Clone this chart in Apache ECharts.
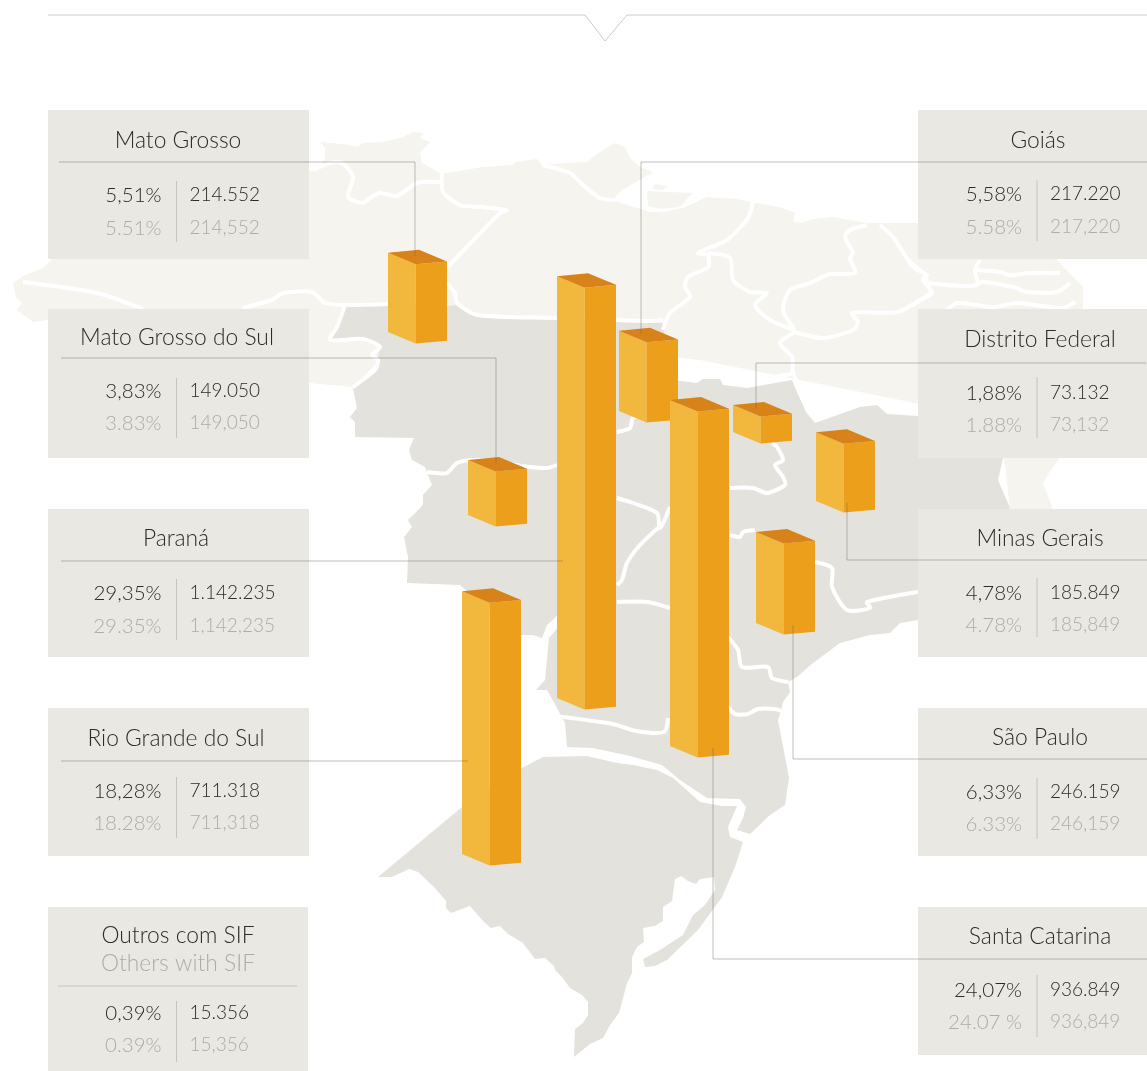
<!DOCTYPE html>
<html>
<head>
<meta charset="utf-8">
<title>Abate por estado</title>
<script src="https://cdn.jsdelivr.net/npm/echarts@6/dist/echarts.min.js"></script>
<style>
html, body { margin: 0; padding: 0; background: #fff; }
#panel { width: 1147px; height: 1071px; }
</style>
</head>
<body>
<div id="panel"></div>
<script>
const states = ['Mato Grosso', 'Mato Grosso do Sul', 'Paraná', 'Rio Grande do Sul', 'Goiás', 'Distrito Federal', 'Minas Gerais', 'São Paulo', 'Santa Catarina', 'Outros com SIF']
const volumes = [214552, 149050, 1142235, 711318, 217220, 73132, 185849, 246159, 936849, 15356]
const sharesPt = ['5,51%', '3,83%', '29,35%', '18,28%', '5,58%', '1,88%', '4,78%', '6,33%', '24,07%', '0,39%']
const sharesEn = ['5.51%', '3.83%', '29.35%', '18.28%', '5.58%', '1.88%', '4.78%', '6.33%', '24.07 %', '0.39%']
const othersEn = 'Others with SIF'

// layout of the bars on the map
const barCount = 9
const barX = [388, 468, 557, 462, 619, 733, 816, 756, 670]
const barBaseY = [332, 515, 698, 854, 411, 432, 501, 623, 746]
const yMax = 2900000

// callouts: route in pixels, last part goes to the bar top or bottom
const calloutRoute = [
  [[59, 162], [415, 162]],
  [[61, 358], [496, 358]],
  [[61, 561], [563, 561]],
  [[61, 761], [468, 761]],
  [[1147, 162], [641, 162]],
  [[1146, 363], [756, 363]],
  [[1147, 560], [847, 560]],
  [[1147, 759], [793, 759]],
  [[1147, 959], [713, 959]]
]
const calloutEnd = ['top', 'top', '', '', 'top', 'top', 'bottom', 'bottom', 'bottom']

// layout of the boxes
const boxX = [48, 48, 48, 48, 918, 918, 918, 918, 918, 48]
const boxW = [261, 261, 261, 261, 229, 229, 229, 229, 229, 260]
const boxY = [110, 309, 509, 708, 110, 309, 509, 708, 907, 907]
const boxH = [149, 149, 148, 148, 149, 149, 148, 148, 148, 164]
const titleX = [178, 177, 176, 176, 1038, 1040, 1040, 1040, 1040, 178]
const titleY = [141, 338, 539, 739, 141, 340, 539, 738, 937, 936]
const rowPtY = [195, 391, 593, 791, 194, 393, 593, 792, 990, 1013]
const rowEnY = [228, 423, 626, 823, 227, 425, 625, 824, 1022, 1045]
const dividerTop = [181, 378, 579, 777, 180, 377, 578, 778, 975, 1001]
const dividerBottom = [242, 438, 640, 838, 241, 438, 637, 839, 1037, 1062]

const gray = '#E3E2DD'
const beige = '#F5F4EE'
const ink = '#2B2B2A'
const soft = '#ADADA7'
const hair = 'rgba(100,100,90,0.42)'

// base map, traced by hand
const mapLight = [[13, 283], [25, 275], [43, 268], [52, 259], [100, 200], [309, 172], [320, 167], [325, 158], [325, 148], [320, 142], [332, 143], [350, 145], [358, 147], [363, 143], [383, 142], [403, 137], [413, 132], [423, 133], [420, 138], [430, 142], [420, 153], [422, 163], [440, 173], [447, 173], [483, 167], [513, 165], [515, 162], [537, 159], [542, 165], [567, 163], [587, 162], [600, 152], [615, 143], [625, 147], [630, 158], [640, 167], [653, 172], [643, 178], [622, 190], [612, 200], [650, 212], [663, 212], [683, 208], [707, 197], [737, 199], [750, 202], [780, 207], [795, 213], [793, 222], [802, 223], [813, 219], [833, 217], [867, 223], [1040, 223], [1057, 260], [1083, 287], [1083, 330], [1060, 458], [1053, 467], [1043, 483], [1053, 510], [1010, 510], [1000, 420], [700, 360], [500, 340], [400, 340], [380, 360], [353, 387], [343, 386], [309, 383], [120, 330], [48, 320], [33, 322], [17, 310], [22, 303], [16, 297]]
const mapIsland = [[647, 191], [692, 193], [680, 207], [660, 209], [648, 206]]
const mapIslet = [[655, 184], [668, 186], [662, 190], [652, 189]]
const mapSouth = [[345, 306], [447, 306], [457, 305], [477, 317], [557, 320], [650, 323], [663, 323], [672, 380], [697, 383], [703, 379], [720, 379], [723, 385], [747, 388], [792, 380], [797, 392], [806, 412], [815, 423], [860, 407], [877, 405], [887, 414], [918, 416], [1005, 416], [1003, 458], [998, 480], [1010, 508], [1010, 600], [918, 620], [900, 623], [890, 633], [870, 635], [840, 643], [813, 663], [797, 677], [788, 682], [790, 692], [783, 702], [781, 711], [778, 720], [789, 778], [785, 805], [770, 815], [750, 834], [737, 830], [743, 818], [746, 807], [740, 799], [707, 798], [680, 780], [662, 765], [630, 756], [593, 748], [567, 747], [565, 723], [558, 710], [547, 690], [536, 690], [545, 680], [549, 638], [560, 625], [557, 616], [547, 625], [542, 638], [533, 635], [520, 635], [460, 585], [407, 583], [408, 557], [404, 537], [412, 527], [408, 520], [423, 505], [423, 495], [432, 485], [427, 473], [425, 467], [412, 460], [409, 450], [414, 438], [355, 437], [355, 422], [350, 417], [357, 408], [353, 388], [375, 370], [380, 347], [363, 340], [332, 340], [337, 327]]
const mapRS = [[543, 757], [587, 756], [617, 763], [633, 765], [657, 770], [673, 778], [700, 802], [722, 806], [737, 806], [728, 827], [730, 837], [743, 842], [735, 867], [722, 897], [698, 930], [667, 960], [655, 966], [645, 967], [643, 959], [660, 950], [683, 935], [693, 915], [705, 905], [715, 890], [714, 877], [700, 879], [696, 884], [688, 881], [681, 876], [675, 879], [672, 901], [663, 907], [663, 921], [655, 926], [643, 928], [644, 942], [637, 947], [632, 957], [632, 973], [627, 983], [619, 1013], [610, 1025], [603, 1038], [590, 1044], [574, 1057], [575, 1029], [583, 1023], [588, 1015], [588, 1002], [582, 995], [570, 988], [562, 977], [555, 970], [554, 966], [545, 958], [535, 959], [523, 943], [508, 934], [500, 926], [491, 928], [484, 922], [470, 906], [451, 913], [446, 908], [446, 901], [435, 888], [418, 872], [409, 869], [392, 877], [378, 877], [462, 807], [522, 768]]
const mapBorders = [
  [[23, 282], [97, 293], [143, 309]],
  [[242, 308], [272, 300], [283, 293], [312, 292], [325, 303], [345, 305], [388, 304]],
  [[345, 305], [337, 327], [330, 340], [363, 339], [380, 347], [372, 355], [378, 360], [375, 370], [353, 387]],
  [[447, 283], [455, 293], [457, 303], [477, 315], [557, 318], [650, 321], [663, 320]],
  [[447, 268], [500, 213], [507, 210], [500, 209], [480, 207], [460, 205], [443, 192], [442, 173]],
  [[440, 182], [417, 183], [397, 196], [380, 193], [370, 198], [363, 203], [348, 197], [353, 177], [342, 163], [330, 163], [313, 170]],
  [[542, 165], [570, 173], [583, 185], [600, 198], [615, 200]],
  [[753, 202], [748, 218], [727, 240], [698, 253], [708, 255], [708, 267], [688, 277], [685, 287], [690, 297], [670, 313], [663, 330]],
  [[708, 253], [730, 258], [733, 280], [750, 292], [767, 293], [755, 305], [770, 320], [795, 330]],
  [[795, 330], [783, 310], [790, 290], [810, 283], [830, 274], [855, 273], [850, 258], [853, 253], [845, 237], [850, 230], [867, 225]],
  [[795, 332], [823, 338], [853, 330], [858, 322], [852, 313], [897, 312], [920, 300], [932, 293], [923, 280], [927, 275], [913, 267], [893, 237], [880, 225]],
  [[795, 332], [780, 343], [792, 357], [793, 373], [800, 387], [810, 403], [817, 420]],
  [[678, 375], [697, 378], [710, 372], [723, 375], [747, 380], [792, 374]],
  [[817, 418], [860, 400], [877, 402], [887, 410], [918, 413]],
  [[927, 283], [977, 285], [975, 270], [980, 260]],
  [[975, 270], [1000, 272], [1010, 275], [1030, 273], [1060, 273]],
  [[977, 285], [982, 282], [1013, 287], [1027, 292], [1057, 292], [1070, 283]],
  [[947, 310], [957, 303], [993, 307], [1017, 303], [1063, 308], [1075, 302]],
  [[908, 260], [925, 275], [927, 283], [930, 293], [900, 312]],
  [[427, 472], [437, 473], [447, 473], [457, 463], [473, 460], [497, 462], [530, 467], [547, 468], [557, 465]],
  [[617, 432], [630, 428], [633, 418], [645, 415]],
  [[617, 498], [633, 503], [657, 513], [660, 528], [670, 507]],
  [[660, 526], [640, 545], [627, 563], [622, 580], [617, 585]],
  [[617, 602], [647, 602], [670, 608]],
  [[730, 488], [753, 488], [767, 493], [785, 485], [783, 477], [775, 465], [783, 460], [777, 447], [772, 443]],
  [[730, 535], [740, 537], [743, 532], [755, 530]],
  [[815, 562], [832, 568], [832, 587], [847, 610], [870, 608], [867, 602], [918, 592]],
  [[728, 637], [738, 650], [742, 667], [768, 667], [772, 678], [788, 682]],
  [[555, 716], [613, 724], [636, 731], [664, 732], [668, 718]],
  [[728, 707], [735, 714], [748, 714], [758, 709], [775, 709], [781, 711]]
]
const topRule = [[48, 15], [585, 15], [605, 41], [627, 15], [1147, 15]]

function dots(n) {
  return String(n).replace(/\B(?=(\d{3})+$)/g, '.')
}
function commas(n) {
  return String(n).replace(/\B(?=(\d{3})+$)/g, ',')
}

function makeGraphics() {
  let els = []
  els.push({ type: 'polygon', shape: { points: mapLight }, style: { fill: beige } })
  els.push({ type: 'polygon', shape: { points: mapIsland }, style: { fill: beige } })
  els.push({ type: 'polygon', shape: { points: mapIslet }, style: { fill: beige } })
  els.push({ type: 'polygon', shape: { points: mapSouth }, style: { fill: gray } })
  els.push({ type: 'polygon', shape: { points: mapRS }, style: { fill: gray } })
  for (let i = 0; i < mapBorders.length; i++) {
    els.push({ type: 'polyline', shape: { points: mapBorders[i], smooth: 0.25 }, style: { stroke: '#fff', fill: null, lineWidth: 4, lineJoin: 'round' } })
  }
  els.push({ type: 'polyline', shape: { points: topRule }, style: { stroke: '#CBCBC5', fill: null, lineWidth: 1 } })

  for (let i = 0; i < states.length; i++) {
    let right = boxX[i] === 918
    let splitX = right ? 1037 : 176.5
    els.push({ type: 'rect', shape: { x: boxX[i], y: boxY[i], width: boxW[i], height: boxH[i] }, style: { fill: '#E9E8E2' } })
    els.push({ type: 'text', x: titleX[i], y: titleY[i], style: { text: states[i], fill: ink, font: '300 22.8px Lato', textAlign: 'center', textVerticalAlign: 'middle' } })
    els.push({ type: 'line', shape: { x1: splitX, y1: dividerTop[i], x2: splitX, y2: dividerBottom[i] }, style: { stroke: '#C6C5BD', lineWidth: 1 } })
    els.push({ type: 'text', x: splitX - 15, y: rowPtY[i], style: { text: sharesPt[i], fill: ink, font: '300 20.5px Lato', textAlign: 'right', textVerticalAlign: 'middle' } })
    els.push({ type: 'text', x: splitX - 15, y: rowEnY[i], style: { text: sharesEn[i], fill: soft, font: '300 20.5px Lato', textAlign: 'right', textVerticalAlign: 'middle' } })
    els.push({ type: 'text', x: splitX + 13, y: rowPtY[i], style: { text: dots(volumes[i]), fill: ink, font: '300 19px Lato', textAlign: 'left', textVerticalAlign: 'middle' } })
    els.push({ type: 'text', x: splitX + 13, y: rowEnY[i], style: { text: commas(volumes[i]), fill: soft, font: '300 19px Lato', textAlign: 'left', textVerticalAlign: 'middle' } })
  }
  // last box has an english line and its own rule
  els.push({ type: 'text', x: 178, y: 964, style: { text: othersEn, fill: soft, font: '300 22.8px Lato', textAlign: 'center', textVerticalAlign: 'middle' } })
  els.push({ type: 'line', shape: { x1: 58, y1: 986, x2: 297, y2: 986 }, style: { stroke: '#C6C5BD', lineWidth: 1 } })
  return els
}

function renderBar(params, api) {
  let i = params.dataIndex
  let x = api.coord([api.value(0), 0])[0]
  let yb = barBaseY[i]
  let h = api.size([0, api.value(1)])[1]

  let left = [[x, yb], [x + 27.5, yb + 11.5], [x + 27.5, yb + 11.5 - h], [x, yb - h]]
  let side = [[x + 27.5, yb + 11.5], [x + 59, yb + 8.7], [x + 59, yb + 8.7 - h], [x + 27.5, yb + 11.5 - h]]
  let top = [[x, yb - h], [x + 31, yb - h - 3], [x + 59, yb - h + 8.7], [x + 27.5, yb - h + 11.5]]

  let route = calloutRoute[i].slice()
  let last = route[route.length - 1]
  if (calloutEnd[i] === 'top') route.push([last[0], yb - h + 3])
  if (calloutEnd[i] === 'bottom') route.push([last[0], yb + 2])

  return {
    type: 'group',
    children: [
      { type: 'polygon', shape: { points: left }, style: { fill: '#F1B83D' } },
      { type: 'polygon', shape: { points: side }, style: { fill: '#EB9F1A' } },
      { type: 'polygon', shape: { points: top }, style: { fill: '#D8821A' } },
      { type: 'polyline', shape: { points: route }, style: { stroke: hair, fill: null, lineWidth: 1 } }
    ]
  }
}

let barData = []
for (let i = 0; i < barCount; i++) {
  barData.push([barX[i], volumes[i], states[i]])
}

var myChart = echarts.init(document.getElementById('panel'), null, { renderer: 'canvas' })

myChart.setOption({
  backgroundColor: '#fff',
  animation: false,
  grid: { left: 0, right: 0, top: 0, bottom: 0 },
  xAxis: { type: 'value', min: 0, max: 1147, show: false },
  yAxis: { type: 'value', min: 0, max: yMax, show: false },
  graphic: { elements: makeGraphics() },
  series: [
    {
      type: 'custom',
      coordinateSystem: 'cartesian2d',
      renderItem: renderBar,
      clip: false,
      data: barData
    }
  ]
})
</script>
</body>
</html>
